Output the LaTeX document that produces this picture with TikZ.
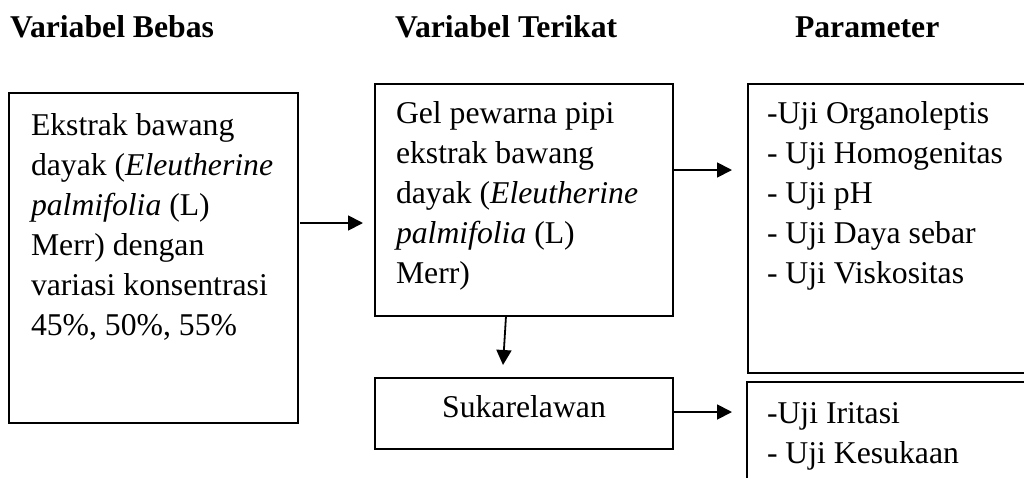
\documentclass[tikz,border=0pt]{standalone}
\usepackage{fontspec}
\setmainfont{Liberation Serif}
\usetikzlibrary{arrows.meta,calc}

\begin{document}
\begin{tikzpicture}[x=1pt,y=-1pt,
  box/.style={draw=black, line width=1.8pt, fill=none, inner sep=0pt, outer sep=0pt, anchor=north west},
  % multi-line texts are placed by the baseline of their last line
  body/.style={inner sep=0pt, outer sep=0pt, anchor=base west, align=left,
               font=\fontsize{31.7}{40}\selectfont},
  head/.style={inner sep=0pt, outer sep=0pt, anchor=base west,
               font=\fontsize{31.7}{40}\selectfont\bfseries},
  arr/.style={draw=black, line width=1.8pt, -{Triangle[length=15pt,width=15pt]}}
]
\useasboundingbox (0,0) rectangle (1024,477);
\clip (0,0) rectangle (1024,477);

% column headings
\node[head] (h1) at (10,37)  {Variabel Bebas};
\node[head] (h2) at (395,37) {Variabel Terikat};
\node[head] (h3) at (795,37) {Parameter};

% boxes
\node[box, minimum width=289, minimum height=330] (b1) at (9,93)   {};
\node[box, minimum width=298, minimum height=232] (b2) at (375,84) {};
\node[box, minimum width=298, minimum height=71]  (s)  at (375,378) {};
\node[box, minimum width=300, minimum height=289] (p1) at (748,84) {};
\node[box, minimum width=300, minimum height=130] (p2) at (747,382) {};

% box contents
\node[body] (t1) at (31,335) {Ekstrak bawang\\
  dayak (\textit{Eleutherine}\\
  \textit{palmifolia} (L)\\
  Merr) dengan\\
  variasi konsentrasi\\
  45\%, 50\%, 55\%};
\node[body] (t2) at (396,283) {Gel pewarna pipi\\
  ekstrak bawang\\
  dayak (\textit{Eleutherine}\\
  \textit{palmifolia} (L)\\
  Merr)};
\node[body, anchor=base] (ts) at (524,417) {Sukarelawan};
\node[body] (tp1) at (767,283) {-Uji Organoleptis\\
  - Uji Homogenitas\\
  - Uji pH\\
  - Uji Daya sebar\\
  - Uji Viskositas};
\node[body] (tp2) at (767,463) {-Uji Iritasi\\
  - Uji Kesukaan};

% connectors
\draw[arr, shorten <=2pt, shorten >=12pt] (b1.east |- 0,223) -- (b2.west |- 0,223);
\draw[arr, shorten >=16pt] (b2.east |- 0,170) -- (p1.west |- 0,170);
\draw[arr, shorten >=15pt] (s.east |- 0,412) -- (p2.west |- 0,412);
\draw[arr] ($(b2.south west)+(131,0)$) -- ($(s.north west)+(128,-13)$);
\end{tikzpicture}
\end{document}
